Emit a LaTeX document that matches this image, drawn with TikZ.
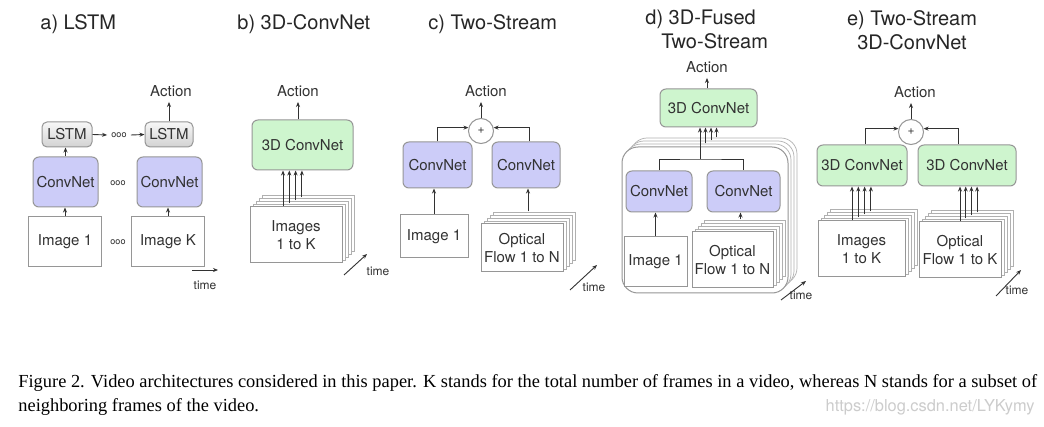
\documentclass[tikz,border=0pt]{standalone}
\usepackage{fontspec}
\setmainfont{TeX Gyre Heros}
\newfontfamily\capfont{Liberation Serif}
\usetikzlibrary{arrows.meta,calc}

\definecolor{convblue}{RGB}{204,204,248}
\definecolor{convgreen}{RGB}{206,245,206}
\definecolor{edge}{RGB}{150,150,150}
\definecolor{ink}{RGB}{50,50,50}

% back sheets of a stack: [extra style]{cx}{cy}{w}{h}{count}
\newcommand\backsheets[6][]{%
  \foreach \k in {#6,...,1}
    \draw[layer,#1] (#2-#4/2+3*\k, #3-#5/2-3*\k) rectangle ++(#4,#5);}

\tikzset{
  sz/.style n args={2}{minimum width=#1*0.5pt, minimum height=#2*0.5pt},
  box/.style={draw=edge, line width=0.5pt, inner sep=0pt, align=center, text=ink,
    font=\fontsize{7.5}{9}\selectfont},
  img/.style={box, fill=white},
  conv/.style={box, fill=convblue, rounded corners=3pt},
  conv3d/.style={box, fill=convgreen, rounded corners=3pt},
  lstm/.style={box, rounded corners=2.5pt, top color=gray!6, bottom color=gray!35},
  layer/.style={draw=edge!75, fill=white, line width=0.35pt},
  plus/.style={circle, draw=edge, fill=white, line width=0.5pt, minimum size=12.5pt,
    inner sep=0pt, text=ink, font=\fontsize{6}{6}\selectfont},
  lbl/.style={text=ink, inner sep=2.5pt, font=\fontsize{7.5}{9}\selectfont},
  ttl/.style={text=black!85, inner sep=0pt, font=\fontsize{10}{12}\selectfont},
  tm/.style={text=ink, inner sep=0pt, font=\fontsize{6}{7}\selectfont},
  dots/.style={text=ink, inner sep=2pt, font=\fontsize{4.5}{5}\selectfont},
  arr/.style={draw=ink, line width=0.45pt, -{Stealth[length=2.5pt,width=2pt]}},
  wire/.style={draw=ink, line width=0.45pt},
}

\begin{document}
\begin{tikzpicture}[x=0.5pt, y=-0.5pt]
  \path[use as bounding box, fill=white] (0,0) rectangle (1044,427);

  % a) LSTM
  \node[ttl, anchor=west] (ta) at (40,24) {a) LSTM};
  \node[img, sz={73}{50}] (ia1) at (65,242) {Image 1};
  \node[img, sz={73}{50}] (iaK) at (168,242) {Image K};
  \node[conv, sz={65}{50}] (ca1) at (65.5,182) {ConvNet};
  \node[conv, sz={65}{50}] (caK) at (169.5,182) {ConvNet};
  \node[lstm, sz={50}{25}] (la1) at (67,134.5) {LSTM};
  \node[lstm, sz={48}{25}] (laK) at (169,134.5) {LSTM};
  \node[dots] (da1) at (119,135) {ooo};
  \node[dots] (da2) at (118,183) {ooo};
  \node[dots] (da3) at (118,242) {ooo};
  \node[lbl] (acta) at (171,91) {Action};
  \draw[arr] (ia1.north) -- (ia1.north |- ca1.south);
  \draw[arr] (iaK.north) -- (iaK.north |- caK.south);
  \draw[arr] (ca1.north) -- (ca1.north |- la1.south);
  \draw[arr] (la1.east) -- (da1.west);
  \draw[arr] (da1.east) -- (laK.west);
  \draw[arr] (laK.north) -- (laK.north |- acta.south);
  \coordinate (tas) at (192,270);
  \coordinate (tae) at (218,270);
  \draw[arr] (tas) -- (tae);
  \node[tm] (tma) at (205,285) {time};

  % b) 3D-ConvNet
  \node[ttl, anchor=west] (tb) at (237,24) {b) 3D-ConvNet};
  \node[conv3d, sz={101}{50}] (cb) at (302.5,145) {3D ConvNet};
  \backsheets{296}{235}{92}{56}{4}
  \node[img, sz={92}{56}] (ib) at (296,235) {Images\\1 to K};
  \node[lbl] (actb) at (298,91) {Action};
  \draw[arr] (actb.south |- cb.north) -- (actb.south);
  \foreach \i in {0,...,3}
    \draw[arr] ($(ib.north)+(-13+6.3*\i,-3*\i)$) coordinate (s) -- (s |- cb.south);
  \coordinate (tbs) at (344,275);
  \coordinate (tbe) at (367,254);
  \draw[arr] (tbs) -- (tbe);
  \node[tm] (tmb) at (378,271) {time};

  % c) Two-Stream
  \node[ttl, anchor=west] (tc) at (428,24) {c) Two-Stream};
  \node[plus] (pc) at (481,131) {+};
  \node[lbl] (actc) at (486,91) {Action};
  \node[conv, sz={69}{46}] (cc1) at (437.5,165) {ConvNet};
  \node[conv, sz={68}{46}] (cc2) at (526,165) {ConvNet};
  \node[img, sz={68}{43}] (ic1) at (434,236.5) {Image 1};
  \backsheets{522}{248}{82}{48}{4}
  \node[img, sz={82}{48}] (ic2) at (522,248) {Optical\\Flow 1 to N};
  \draw[arr] (pc.north) -- (pc.north |- actc.south);
  \draw[arr] (cc1.north) |- (pc.165);
  \draw[arr] ([xshift=1.5pt]cc2.north) |- (pc.15);
  \draw[arr] (ic1.north) -- (ic1.north |- cc1.south);
  \draw[arr] ($(ic2.north)+(6,-12)$) coordinate (s) -- (s |- cc2.south);
  \coordinate (tcs) at (570,290);
  \coordinate (tce) at (597,265);
  \draw[arr] (tcs) -- (tce);
  \node[tm] (tmc) at (594,287) {time};

  % d) 3D-Fused Two-Stream
  \node[ttl, anchor=west, align=left] (td) at (645,29) {d) 3D-Fused\\\hspace{8pt}Two-Stream};
  \node[lbl] (actd) at (707,67) {Action};
  \node[conv3d, sz={97}{38}] (cd3) at (708.5,108) {3D ConvNet};
  \backsheets[rounded corners=8pt]{705}{220}{166}{146}{3}
  \node[img, rounded corners=8pt, sz={166}{146}] (fd) at (705,220) {};
  \node[conv, sz={66}{41}] (cd1) at (659,191.5) {ConvNet};
  \node[conv, sz={73}{41}] (cd2) at (743.5,191.5) {ConvNet};
  \node[img, sz={63}{50}] (id1) at (655.5,262) {Image 1};
  \backsheets{732.5}{260}{81}{56}{4}
  \node[img, sz={81}{56}] (id2) at (732.5,260) {Optical\\Flow 1 to N};
  \coordinate (jd) at (700,159);
  \draw[wire] (cd1.north) |- (jd) -| (cd2.north);
  \draw[arr] (jd) -- (jd |- cd3.south);
  \foreach \i in {1,2,3}
    \draw[arr] ($(fd.north)+(-5+5.5*\i,-3*\i)$) coordinate (s) -- (s |- cd3.south);
  \draw[arr] (id1.north) -- (id1.north |- cd1.south);
  \draw[arr] ($(id2.north)+(8,-12)$) coordinate (s) -- (s |- cd2.south);
  \draw[arr] (actd.south |- cd3.north) -- (actd.south);
  \coordinate (tds) at (781,300);
  \coordinate (tde) at (806,281);
  \draw[arr] (tds) -- (tde);
  \node[tm] (tmd) at (801,295) {time};

  % e) Two-Stream 3D-ConvNet
  \node[ttl, align=center] (te) at (912,30.5) {e) Two-Stream\\3D-ConvNet};
  \node[lbl] (acte) at (915,92) {Action};
  \node[plus] (pe) at (911,132) {+};
  \node[conv3d, sz={90}{41}] (ce1) at (862,165.5) {3D ConvNet};
  \node[conv3d, sz={98}{41}] (ce2) at (967,165.5) {3D ConvNet};
  \backsheets{861.5}{249}{87}{56}{4}
  \node[img, sz={87}{56}] (ie1) at (861.5,249) {Images\\1 to K};
  \backsheets{960}{250}{82}{56}{4}
  \node[img, sz={82}{56}] (ie2) at (960,250) {Optical\\Flow 1 to K};
  \draw[arr] (pe.north) -- (pe.north |- acte.south);
  \draw[arr] ([xshift=1.5pt]ce1.north) |- (pe.165);
  \draw[arr] ([xshift=-4.5pt]ce2.north) |- (pe.15);
  \foreach \i in {0,...,3} {
    \draw[arr] ($(ie1.north)+(-9.5+6.3*\i,-3*\i)$) coordinate (s) -- (s |- ce1.south);
    \draw[arr] ($(ie2.north)+(5.7*\i,-3*\i)$) coordinate (s) -- (s |- ce2.south);
  }
  \coordinate (tes) at (996,296);
  \coordinate (tee) at (1021,270);
  \draw[arr] (tes) -- (tee);
  \node[tm] (tme) at (1017,290) {time};

  % caption
  \node[anchor=base west, inner sep=0pt, font=\capfont\fontsize{9.2}{9.2}\selectfont] (cap1) at (18,387)
    {Figure 2. Video architectures considered in this paper. K stands for the total number of frames in a video, whereas N stands for a subset of};
  \node[anchor=base west, inner sep=0pt, font=\capfont\fontsize{9.2}{9.2}\selectfont] (cap2) at (18,411)
    {neighboring frames of the video.};
  \node[anchor=base east, inner sep=0pt, text=gray!40, font=\fontsize{8.2}{8.2}\selectfont] (wm) at (1035,411)
    {https://blog.csdn.net/LYKymy};
\end{tikzpicture}
\end{document}
